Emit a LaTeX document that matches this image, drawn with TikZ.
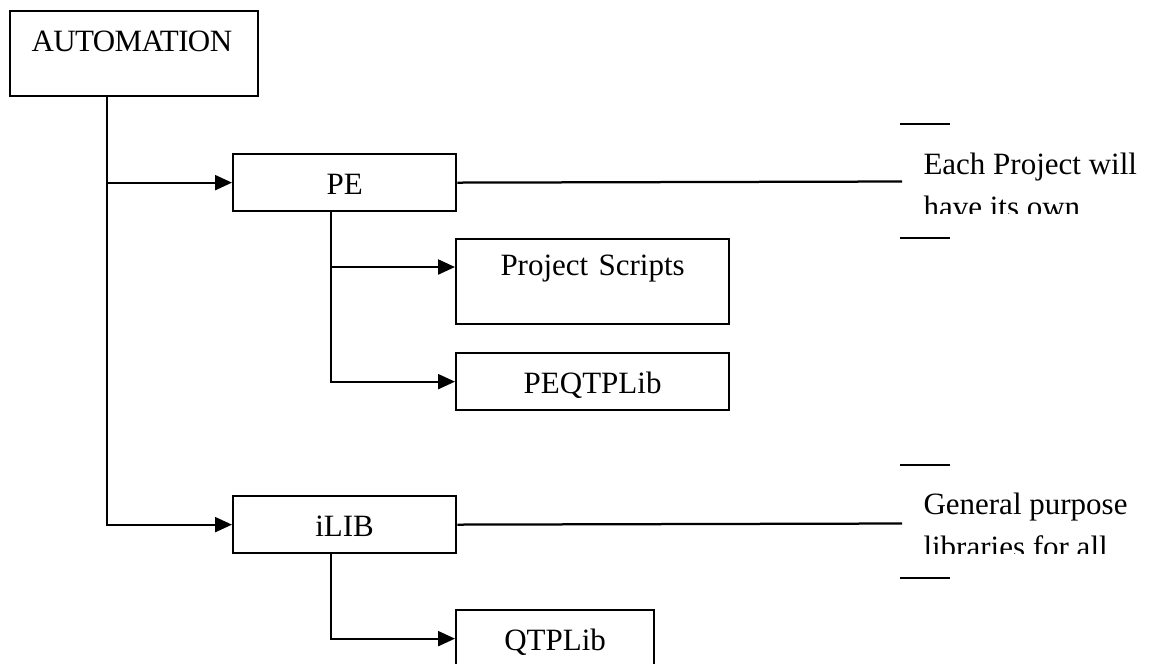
\documentclass[tikz,border=0pt]{standalone}
\usepackage{fontspec}
\setmainfont{Liberation Serif}
\usetikzlibrary{arrows.meta}

\begin{document}
\begin{tikzpicture}[
  x=0.4pt, y=-0.4pt,
  box/.style={draw, line width=0.9pt, anchor=north west, inner xsep=0pt,
              inner ysep=0pt, text height=16pt, text depth=6.8pt, align=center,
              font=\fontsize{12.4pt}{17.2pt}\selectfont},
  arrow/.style={-{Triangle[length=6.8pt,width=6pt]}, line width=0.9pt},
  link/.style={line width=0.9pt},
  note/.style={anchor=north west, inner sep=0pt, align=left,
               font=\fontsize{12.4pt}{17.2pt}\selectfont}
]
\clip (0,0) rectangle (1155,663);
% boxes
\node[box, text width=82pt, inner xsep=8.6pt, align=left, text depth=18pt,
      font=\fontsize{12.4pt}{17.2pt}\selectfont\addfontfeature{LetterSpace=-2}] (auto) at (9,10) {AUTOMATION};
\node[box, text width=89.2pt] (pe) at (232,153) {PE};
\node[box, text width=109.2pt, text height=14.4pt, text depth=19.6pt] (scripts) at (455,238) {Project Scripts};
\node[box, text width=109.2pt] (peqtp) at (455,352) {PEQTPLib};
\node[box, text width=89.2pt] (ilib) at (232,495) {iLIB};
\node[box, text width=79.2pt] (qtp) at (455,609) {QTPLib};
% connectors
\coordinate (trunk) at ([xshift=39.2pt]auto.south west);
\coordinate (peDrop) at ([xshift=39.6pt]pe.south west);
\coordinate (ilibDrop) at ([xshift=39.6pt]ilib.south west);
\coordinate (scriptsIn) at ([yshift=-11.6pt]scripts.north west);
\draw[arrow] (trunk) |- (ilib.west);
\draw[arrow] (trunk |- pe.west) -- (pe.west);
\draw[arrow] (peDrop) |- (peqtp.west);
\draw[arrow] (peDrop |- scriptsIn) -- (scriptsIn);
\draw[arrow] (ilibDrop) |- (qtp.west);
% callouts
\begin{scope}
  \clip (900,124) rectangle (1155,213);
  \node[note] (peNote) at (923,152) {Each Project will\\have its own};
\end{scope}
\begin{scope}
  \clip (900,465) rectangle (1155,553);
  \node[note] (ilibNote) at (923,492) {General purpose\\libraries for all};
\end{scope}
\coordinate (peTip) at (902,181.5);
\coordinate (ilibTip) at (902,523.5);
\draw[link] (pe.east) -- (peTip);
\draw[link] (ilib.east) -- (ilibTip);
\draw[link] (900,124) -- (950,124);
\draw[link] (900,238) -- (950,238);
\draw[link] (900,465) -- (950,465);
\draw[link] (900,578) -- (950,578);
\end{tikzpicture}
\end{document}
